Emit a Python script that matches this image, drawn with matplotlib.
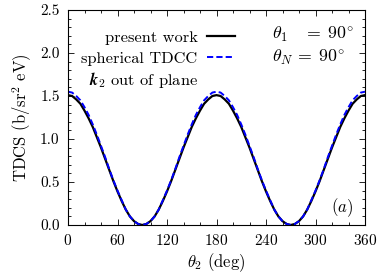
import matplotlib
matplotlib.use("Agg")
import matplotlib.pyplot as plt
from matplotlib.ticker import MultipleLocator

plt.rcParams['font.family'] = 'cmr10'
plt.rcParams['mathtext.fontset'] = 'cm'
plt.rcParams['axes.formatter.use_mathtext'] = True

### data (every 5 deg)
theta2 = list(range(0, 361, 5))
present = [1.51, 1.50, 1.46, 1.41, 1.33, 1.24, 1.14, 1.02, 0.90, 0.77,
           0.64, 0.51, 0.39, 0.28, 0.18, 0.10, 0.045, 0.012, 0.0,
           0.012, 0.045, 0.10, 0.18, 0.28, 0.39, 0.51, 0.64, 0.77,
           0.90, 1.02, 1.14, 1.24, 1.33, 1.41, 1.46, 1.50, 1.51,
           1.50, 1.46, 1.41, 1.33, 1.24, 1.14, 1.02, 0.90, 0.77,
           0.64, 0.51, 0.39, 0.28, 0.18, 0.10, 0.045, 0.012, 0.0,
           0.012, 0.045, 0.10, 0.18, 0.28, 0.39, 0.51, 0.64, 0.77,
           0.90, 1.02, 1.14, 1.24, 1.33, 1.41, 1.46, 1.50, 1.51]
tdcc = [1.55, 1.54, 1.50, 1.45, 1.37, 1.28, 1.17, 1.05, 0.92, 0.79,
        0.65, 0.52, 0.40, 0.29, 0.18, 0.10, 0.045, 0.012, 0.0,
        0.012, 0.045, 0.10, 0.18, 0.29, 0.40, 0.52, 0.65, 0.79,
        0.92, 1.05, 1.17, 1.28, 1.37, 1.45, 1.50, 1.54, 1.55,
        1.54, 1.50, 1.45, 1.37, 1.28, 1.17, 1.05, 0.92, 0.79,
        0.65, 0.52, 0.40, 0.29, 0.18, 0.10, 0.045, 0.012, 0.0,
        0.012, 0.045, 0.10, 0.18, 0.29, 0.40, 0.52, 0.65, 0.79,
        0.92, 1.05, 1.17, 1.28, 1.37, 1.45, 1.50, 1.54, 1.55]
xticks = [0, 60, 120, 180, 240, 300, 360]
yticks = [0.0, 0.5, 1.0, 1.5, 2.0, 2.5]

fig = plt.figure(figsize=(3.82, 2.79), dpi=100)
ax = fig.add_axes([68/382, 1 - 225/279, 297/382, 215/279])

ax.plot(theta2, present, '-', color='black', lw=1.6, label='present work')
ax.plot(theta2, tdcc, '--', color='#0000ff', lw=1.4, dashes=(3.2, 1.6),
        label='spherical TDCC')

ax.set_xlim(0, 360)
ax.set_ylim(0, 2.5)
ax.set_xticks(xticks)
ax.set_yticks(yticks)
ax.set_yticklabels(["%.1f" % y for y in yticks])
ax.xaxis.set_minor_locator(MultipleLocator(20))
ax.yaxis.set_minor_locator(MultipleLocator(0.1))
ax.tick_params(which='both', direction='in', top=True, right=True,
               labelsize=11, width=0.6)
ax.tick_params(which='major', length=4, pad=6)
ax.tick_params(which='minor', length=2)
for s in ax.spines.values():
    s.set_linewidth(0.8)

ax.set_xlabel(r'$\theta_2$ (deg)', fontsize=12, labelpad=2)
ax.set_ylabel(r'TDCS (b/sr$^2$ eV)', fontsize=12, labelpad=4)

leg = ax.legend(loc='upper right', bbox_to_anchor=(0.563, 0.905), frameon=False,
                markerfirst=False, fontsize=11.8, handlelength=1.7,
                handletextpad=0.6, labelspacing=0.4, borderaxespad=0,
                borderpad=0)
ax.text(0.438, 0.675, r'$\boldsymbol{k}_2$ out of plane', transform=ax.transAxes,
        ha='right', va='center', fontsize=11.8)
ax.text(0.687, 0.885, r'$\theta_1\;\;\;\,=\;90^{\circ}$', transform=ax.transAxes,
        ha='left', va='center', fontsize=12.8)
ax.text(0.687, 0.78, r'$\theta_N\,=\;90^{\circ}$', transform=ax.transAxes,
        ha='left', va='center', fontsize=12.8)
ax.text(0.96, 0.08, r'$(a)$', transform=ax.transAxes,
        ha='right', va='center', fontsize=12)

fig.savefig('out.png', dpi=100)
